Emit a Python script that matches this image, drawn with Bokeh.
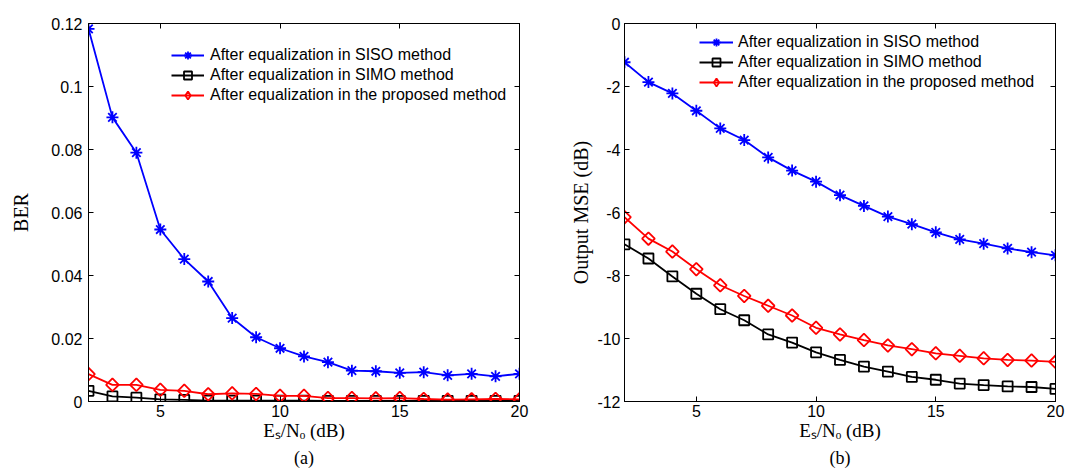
from bokeh.plotting import figure
from bokeh.layouts import row
from bokeh.models import (Range1d, FixedTicker, LinearAxis, Legend, LegendItem, Title)
from bokeh.embed import file_html
from bokeh.resources import INLINE
import math

# ---------------- data ----------------
snr_db = list(range(2, 21))

ber_siso = [0.1183, 0.0902, 0.0790, 0.0546, 0.0452, 0.0381, 0.0265, 0.0204, 0.0169, 0.0143,
            0.0125, 0.0098, 0.0096, 0.0091, 0.0093, 0.0083, 0.0088, 0.0080, 0.0088]
ber_simo = [0.0034, 0.0016, 0.0012, 0.0007, 0.0005, 0.0003, 0.0003, 0.0003, 0.0003, 0.0003,
            0.0002, 0.0002, 0.0002, 0.0002, 0.0002, 0.0002, 0.0002, 0.0002, 0.0002]
ber_prop = [0.0087, 0.0053, 0.0053, 0.0037, 0.0034, 0.0023, 0.0026, 0.0024, 0.0018, 0.0018,
            0.0011, 0.0011, 0.0010, 0.0011, 0.0008, 0.0006, 0.0007, 0.0008, 0.0007]

mse_siso = [-1.23, -1.86, -2.22, -2.77, -3.33, -3.70, -4.25, -4.67, -5.02, -5.45,
            -5.79, -6.13, -6.37, -6.63, -6.85, -6.99, -7.14, -7.26, -7.36]
mse_simo = [-7.01, -7.46, -8.03, -8.58, -9.07, -9.42, -9.87, -10.13, -10.44, -10.68,
            -10.89, -11.05, -11.22, -11.31, -11.43, -11.48, -11.52, -11.54, -11.60]
mse_prop = [-6.15, -6.83, -7.24, -7.80, -8.31, -8.65, -8.96, -9.27, -9.66, -9.87,
            -10.05, -10.22, -10.34, -10.47, -10.55, -10.63, -10.68, -10.70, -10.74]

series_names = ["After equalization in SISO method",
                "After equalization in SIMO method",
                "After equalization in the proposed method"]

x_title = "E\u209b/N\u2092 (dB)"
x_ticks = [5, 10, 15, 20]
x_tick_labels = ["5", "10", "15", "20"]
ber_ticks = [0, 0.02, 0.04, 0.06, 0.08, 0.1, 0.12]
ber_tick_labels = ["0", "0.02", "0.04", "0.06", "0.08", "0.1", "0.12"]
mse_ticks = [-12, -10, -8, -6, -4, -2, 0]
mse_tick_labels = ["-12", "-10", "-8", "-6", "-4", "-2", "0"]

SANS = "Liberation Sans"
SERIF = "Liberation Serif"
NAN = float("nan")


def style_axis(ax, ticks, labels, show_labels=True, standoff=5):
    ax.ticker = FixedTicker(ticks=ticks)
    ax.major_tick_in = 5
    ax.major_tick_out = 0
    ax.minor_tick_line_color = None
    ax.axis_line_color = "black"
    ax.major_tick_line_color = "black"
    ax.major_label_text_font = SANS
    ax.major_label_text_color = "black"
    ax.major_label_text_font_size = "16px"
    if show_labels:
        ax.major_label_overrides = {t: l for t, l in zip(ticks, labels)}
        ax.major_label_standoff = standoff
    else:
        ax.major_label_overrides = {t: "" for t in ticks}
        ax.major_label_standoff = 0


def make_panel(width, borders, y_range, y_ticks, y_labels, ys, y_title, y_std, ylab_std,
               legend_loc, glyph_w, label_std, caption):
    bl, br, bt, bb = borders
    p = figure(width=width, height=469, output_backend="svg", toolbar_location=None,
               x_range=Range1d(2, 20), y_range=y_range,
               min_border_left=bl, min_border_right=br, min_border_top=bt, min_border_bottom=bb)
    p.background_fill_color = "white"
    p.border_fill_color = "white"
    p.outline_line_color = "black"
    p.outline_line_width = 1
    p.xgrid.grid_line_color = None
    p.ygrid.grid_line_color = None

    xa = p.xaxis[0]
    style_axis(xa, x_ticks, x_tick_labels, True, 3)
    xa.axis_label = x_title
    xa.axis_label_text_font = SERIF
    xa.axis_label_text_font_style = "normal"
    xa.axis_label_text_font_size = "19px"
    xa.axis_label_text_color = "black"
    xa.axis_label_standoff = 0

    ya = p.yaxis[0]
    style_axis(ya, y_ticks, y_labels, True, y_std)
    ya.axis_label = y_title
    ya.axis_label_text_font = SERIF
    ya.axis_label_text_font_style = "normal"
    ya.axis_label_text_font_size = "20px"
    ya.axis_label_text_color = "black"
    ya.axis_label_standoff = ylab_std

    top = LinearAxis()
    style_axis(top, x_ticks, x_tick_labels, False)
    p.add_layout(top, "above")
    right = LinearAxis()
    style_axis(right, y_ticks, y_labels, False)
    p.add_layout(right, "right")

    s_siso, s_simo, s_prop = ys
    l1 = p.line(snr_db, s_siso, line_color="#0000FF", line_width=1.8)
    m1 = p.scatter(snr_db, s_siso, marker="asterisk", size=12, line_color="#0000FF", line_width=1.8)
    l2 = p.line(snr_db, s_simo, line_color="black", line_width=1.8)
    m2 = p.scatter(snr_db, s_simo, marker="square", size=10, line_color="black",
                   fill_color=None, line_width=1.8)
    l3 = p.line(snr_db, s_prop, line_color="#FF0000", line_width=1.8)
    m3 = p.scatter(snr_db, s_prop, marker="square", angle=math.pi / 4, size=9,
                   line_color="#FF0000", fill_color=None, line_width=1.8)
    # legend-only diamond (the legend draws markers unrotated); NaN point is never drawn
    d3 = p.scatter([NAN], [NAN], marker="diamond", size=12, line_color="#FF0000",
                   fill_color=None, line_width=1.8)

    legend = Legend(items=[LegendItem(label=series_names[0], renderers=[l1, m1]),
                           LegendItem(label=series_names[1], renderers=[l2, m2]),
                           LegendItem(label=series_names[2], renderers=[l3, d3])],
                    location=legend_loc, padding=0, margin=0, spacing=0,
                    glyph_width=glyph_w, glyph_height=20, label_height=20,
                    label_standoff=label_std,
                    label_text_font=SANS, label_text_font_size="16px",
                    label_text_color="black",
                    background_fill_alpha=0, border_line_alpha=0)
    p.add_layout(legend)

    cap = Title(text=caption, align="center", text_font=SERIF, text_font_size="18px",
                text_font_style="normal", text_color="black", standoff=4, offset=0)
    p.add_layout(cap, "below")
    return p


p1 = make_panel(540, (88, 21, 22, 68), Range1d(0, 0.12), ber_ticks, ber_tick_labels,
                (ber_siso, ber_simo, ber_prop), "BER", 6, 16,
                (83, 296), 33, 6, "(a)")
p2 = make_panel(528, (84, 13, 23, 67), Range1d(-12, 0), mse_ticks, mse_tick_labels,
                (mse_siso, mse_simo, mse_prop), "Output MSE (dB)", 4, 2,
                (75, 309), 34, 5, "(b)")

layout = row(p1, p2)
open("out.html", "w").write(file_html(layout, INLINE))
